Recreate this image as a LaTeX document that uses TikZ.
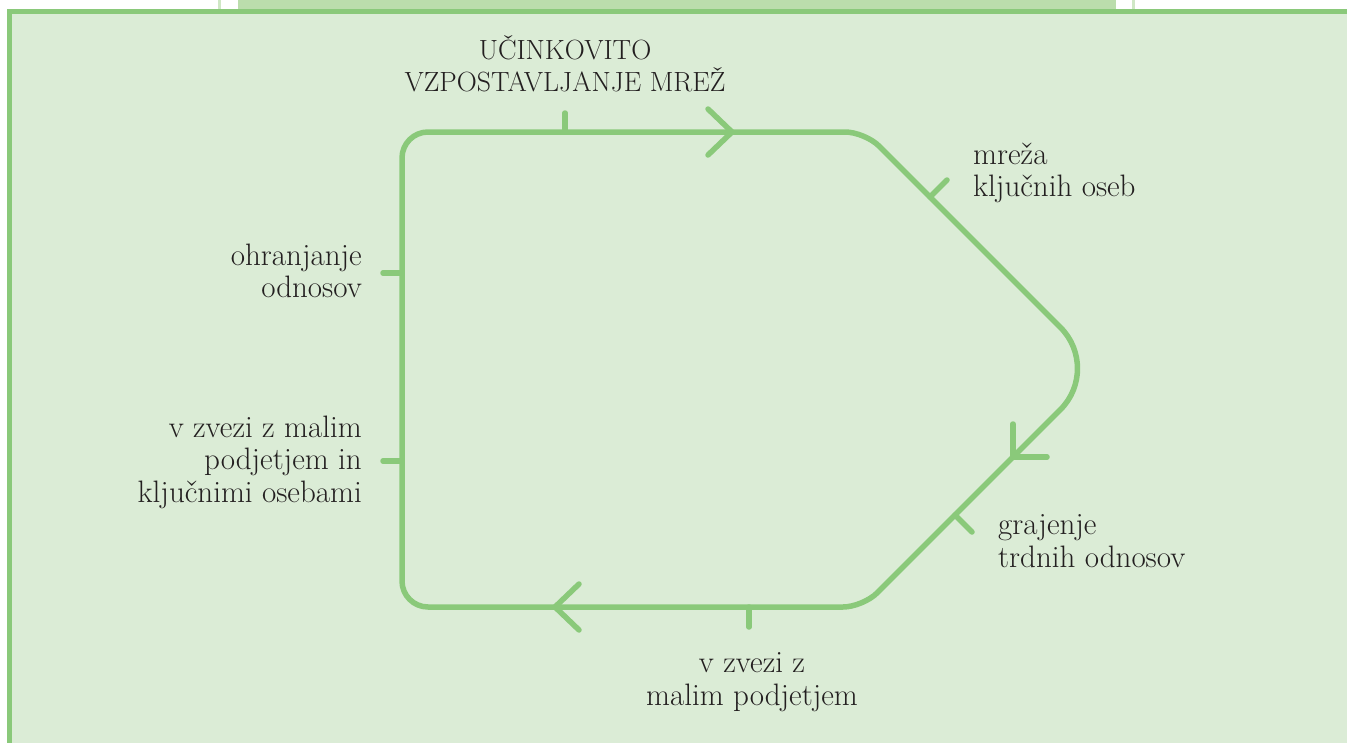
\documentclass[tikz,border=0pt]{standalone}
\usepackage{fontspec}
\setmainfont{Latin Modern Roman}
\usepackage{tikz}
\usetikzlibrary{calc,positioning}
\definecolor{leaf}{HTML}{8AC97A}
\definecolor{pale}{HTML}{DBECD6}
\definecolor{band}{HTML}{BBDDAC}
\definecolor{ink}{HTML}{231F20}
\tikzset{
  loopline/.style={draw=leaf,line width=5.5pt,line cap=round,line join=round},
  tick/.style={draw=leaf,line width=5.5pt,line cap=round},
  chev/.style={draw=leaf,line width=5.5pt,line cap=round,line join=miter},
  lbl/.style={font=\fontsize{31}{32.5}\selectfont,text=ink,inner sep=0pt},
  headlbl/.style={lbl,font=\fontsize{27.8}{32}\selectfont,align=center},
}

\begin{document}
\begin{tikzpicture}[x=1pt,y=-1pt]
    \useasboundingbox (0,0) rectangle (1347,742);
    % page strip and frame
    \fill[band] (238,0) rectangle (1116,9);
    \fill[band!70] (218,0) rectangle (221,9);
    \fill[band!70] (1132,0) rectangle (1135,9);
    \draw[draw=leaf,fill=pale,line width=5.5pt] (9.5,11.5) rectangle (1370,770);
    % the loop
    \coordinate (tl) at (402,132);
    \coordinate (tr) at (865,132);
    \coordinate (rt) at (1101.5,368.5);
    \coordinate (br) at (863,607);
    \coordinate (bl) at (402,607);
    \draw[loopline] (402,400) [rounded corners=26pt] -- (tl) [rounded corners=20pt] -- (tr) [rounded corners=58pt] -- (rt) [rounded corners=20pt] -- (br) [rounded corners=26pt] -- (bl) -- cycle;
    % arrow heads
    \coordinate (aTop) at (732,132);
    \coordinate (aRt) at (1013,457);
    \coordinate (aBot) at (555,607);
    \draw[chev] ($(aTop)+(-24,-23)$) -- (aTop) -- ++(-24,23);
    \draw[chev] ($(aRt)+(0,-33)$) -- (aRt) -- ++(34,0);
    \draw[chev] ($(aBot)+(24,-23)$) -- (aBot) -- ++(24,23);
    % ticks
    \coordinate (kTop) at (565,132);
    \coordinate (kMreza) at (930,197);
    \coordinate (kGraj) at (955,515);
    \coordinate (kBot) at (749,607);
    \coordinate (kOhr) at (402,273);
    \coordinate (kZvez) at (402,461);
    \draw[tick] (kTop) -- ++(0,-19);
    \draw[tick] (kMreza) -- ++(17,-17);
    \draw[tick] (kGraj) -- ++(17,17);
    \draw[tick] (kBot) -- ++(0,20);
    \draw[tick] (kOhr) -- ++(-19,0);
    \draw[tick] (kZvez) -- ++(-19,0);
    % labels
    \node[headlbl,anchor=south] (head) at (565,92) {UČINKOVITO\\VZPOSTAVLJANJE MREŽ};
    \node[lbl,align=left,anchor=north west] (mreza) at (973,142.4) {mreža\\ključnih oseb};
    \node[lbl,align=right,anchor=north east] (ohr) at (362,243.5) {ohranjanje\\odnosov};
    \node[lbl,align=right,anchor=north east] (zvez) at (362,415.5) {v zvezi z malim\\podjetjem in\\ključnimi osebami};
    \node[lbl,align=left,anchor=north west] (graj) at (998,514.3) {grajenje\\trdnih odnosov};
    \node[lbl,align=center,anchor=north] (bot) at (752,652.3) {v zvezi z\\malim podjetjem};
\end{tikzpicture}
\end{document}
